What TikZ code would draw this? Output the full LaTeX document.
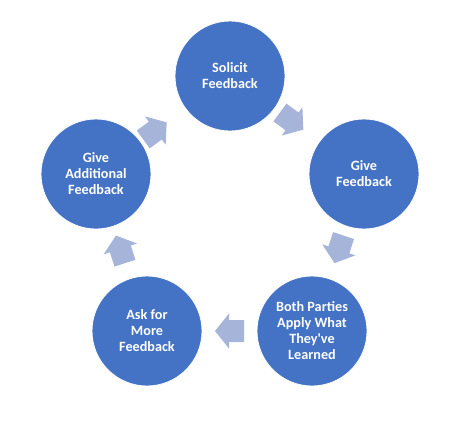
\documentclass[tikz,border=0pt]{standalone}
\usepackage{fontspec}
\setmainfont{Carlito}
\usetikzlibrary{calc}
\definecolor{circblue}{HTML}{4472C4}
\definecolor{arrowblue}{HTML}{A6B4DA}
\tikzset{
  stage/.style={circle, fill=circblue, draw=white, line width=0.8pt, minimum size=110pt, inner sep=0pt,
    text=white, align=center, font=\bfseries\fontsize{14.2pt}{16pt}\selectfont},
  blockarrow/.style={fill=arrowblue, draw=none}
}
\begin{document}
\begin{tikzpicture}[x=1pt,y=-1pt]
\useasboundingbox (0,0) rectangle (450,426);
\node[stage] (s) at (230,76) {Solicit\\Feedback};
\node[stage] (g) at (364,174) {Give\\Feedback};
\node[stage] (b) at (312,331) {Both Parties\\Apply What\\They\textquotesingle ve\\Learned};
\node[stage] (m) at (147,331) {Ask for\\More\\Feedback};
\node[stage] (a) at (96,174) {Give\\Additional\\Feedback};
\foreach \from/\to/\pos in {s/g/0.46, g/b/0.48, b/m/0.5, m/a/0.52, a/s/0.44}{
  \path let \p1=($(\to)-(\from)$), \n1={atan2(\y1,\x1)} in
    coordinate (mid) at ($(\from)!\pos!(\to)$)
    [blockarrow, shift={(mid)}, rotate=\n1]
    (-14.5,-11) -- (0.5,-11) -- (0.5,-17.5) -- (14.5,0) -- (0.5,17.5) -- (0.5,11) -- (-14.5,11) -- cycle;
}
\end{tikzpicture}
\end{document}
